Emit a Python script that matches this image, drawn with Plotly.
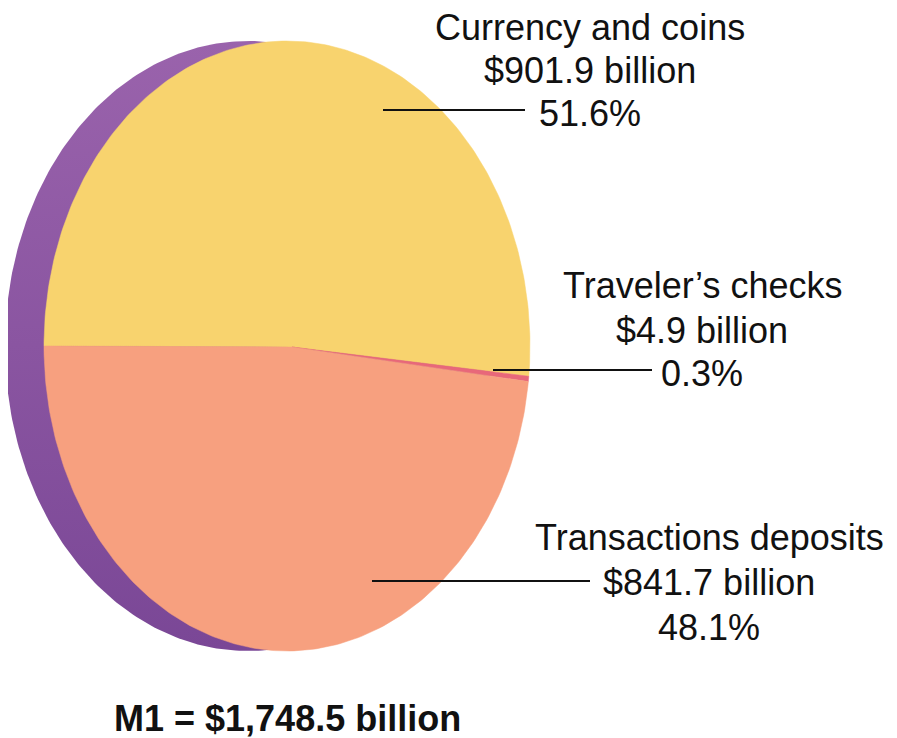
import numpy as np
import plotly.graph_objects as go

# ---- data ----
categories = ["Currency and coins", "Traveler\u2019s checks", "Transactions deposits"]
values_billion = [901.9, 4.9, 841.7]
value_labels = ["$901.9 billion", "$4.9 billion", "$841.7 billion"]
pct_labels = ["51.6%", "0.3%", "48.1%"]
title_text = "M1 = $1,748.5 billion"

# ---- styling / layout (coordinates in page pixels) ----
colors = ["#F8D36E", "#E8687A", "#F7A07F"]
PAGE_W, PAGE_H, BODY = 897, 738, 8         # page body has an 8px margin
cx, cy, rx, ry = 287, 346, 243, 305        # ellipse of the pie face
apex = (292, 347)                          # pie apex
side_shift = 39                            # purple rim offset
FONT = "Liberation Sans, Arial, Helvetica, sans-serif"

fig = go.Figure()

# purple rim (ellipse shifted left)
t = np.linspace(0, 2 * np.pi, 400)
fig.add_trace(go.Scatter(
    x=cx - side_shift + rx * np.cos(t), y=cy - ry * np.sin(t),
    mode="lines", line=dict(width=0), fill="toself",
    fillgradient=dict(type="vertical", start=40, stop=650,
                      colorscale=[[0, "#9A63AC"], [1, "#7A4796"]]),
    hoverinfo="skip", showlegend=False))

# slices: start at left (180 deg) and go clockwise over the top
total = sum(values_billion)
start = np.pi
for v, c in zip(values_billion, colors):
    sweep = 2 * np.pi * v / total
    th = np.linspace(start, start - sweep, max(6, int(400 * v / total)))
    xs = np.concatenate([[apex[0]], cx + rx * np.cos(th), [apex[0]]])
    ys = np.concatenate([[apex[1]], cy - ry * np.sin(th), [apex[1]]])
    fig.add_trace(go.Scatter(x=xs, y=ys, mode="lines", line=dict(width=0.5, color=c),
                             fill="toself", fillcolor=c, hoverinfo="skip",
                             showlegend=False))
    start -= sweep

# labels: one annotation per text line
label_x = [590, 702, 709]
label_y = [(27, 70, 113), (285, 330, 373), (537, 582, 627)]
for lx, ys3, cat, val, pct in zip(label_x, label_y, categories, value_labels, pct_labels):
    for ly, txt in zip(ys3, (cat, val, pct)):
        fig.add_annotation(x=lx, y=ly, text=txt, showarrow=False,
                           xanchor="center", yanchor="middle",
                           font=dict(family=FONT, size=36, color="#111111"))

# leader lines
leaders = [((383, 110), (525, 110)), ((493, 370), (652, 370)), ((372, 581), (590, 581))]
for (x0, y0), (x1, y1) in leaders:
    fig.add_shape(type="line", x0=x0, y0=y0, x1=x1, y1=y1,
                  line=dict(color="#111111", width=2))

# thin border fragment at the right edge
fig.add_shape(type="line", x0=895, y0=439, x1=895, y1=738,
              line=dict(color="#555555", width=1.5))

fig.add_annotation(x=287, y=718, text=f"<b>{title_text}</b>", showarrow=False,
                   xanchor="center", yanchor="middle",
                   font=dict(family=FONT, size=36, color="#111111"))

fig.update_layout(
    width=PAGE_W - BODY, height=PAGE_H - BODY, margin=dict(l=0, r=0, t=0, b=0),
    paper_bgcolor="white", plot_bgcolor="white",
    xaxis=dict(range=[BODY, PAGE_W], visible=False, fixedrange=True),
    yaxis=dict(range=[PAGE_H, BODY], visible=False, fixedrange=True),
)
fig.write_html("out.html", config={"displayModeBar": False})
